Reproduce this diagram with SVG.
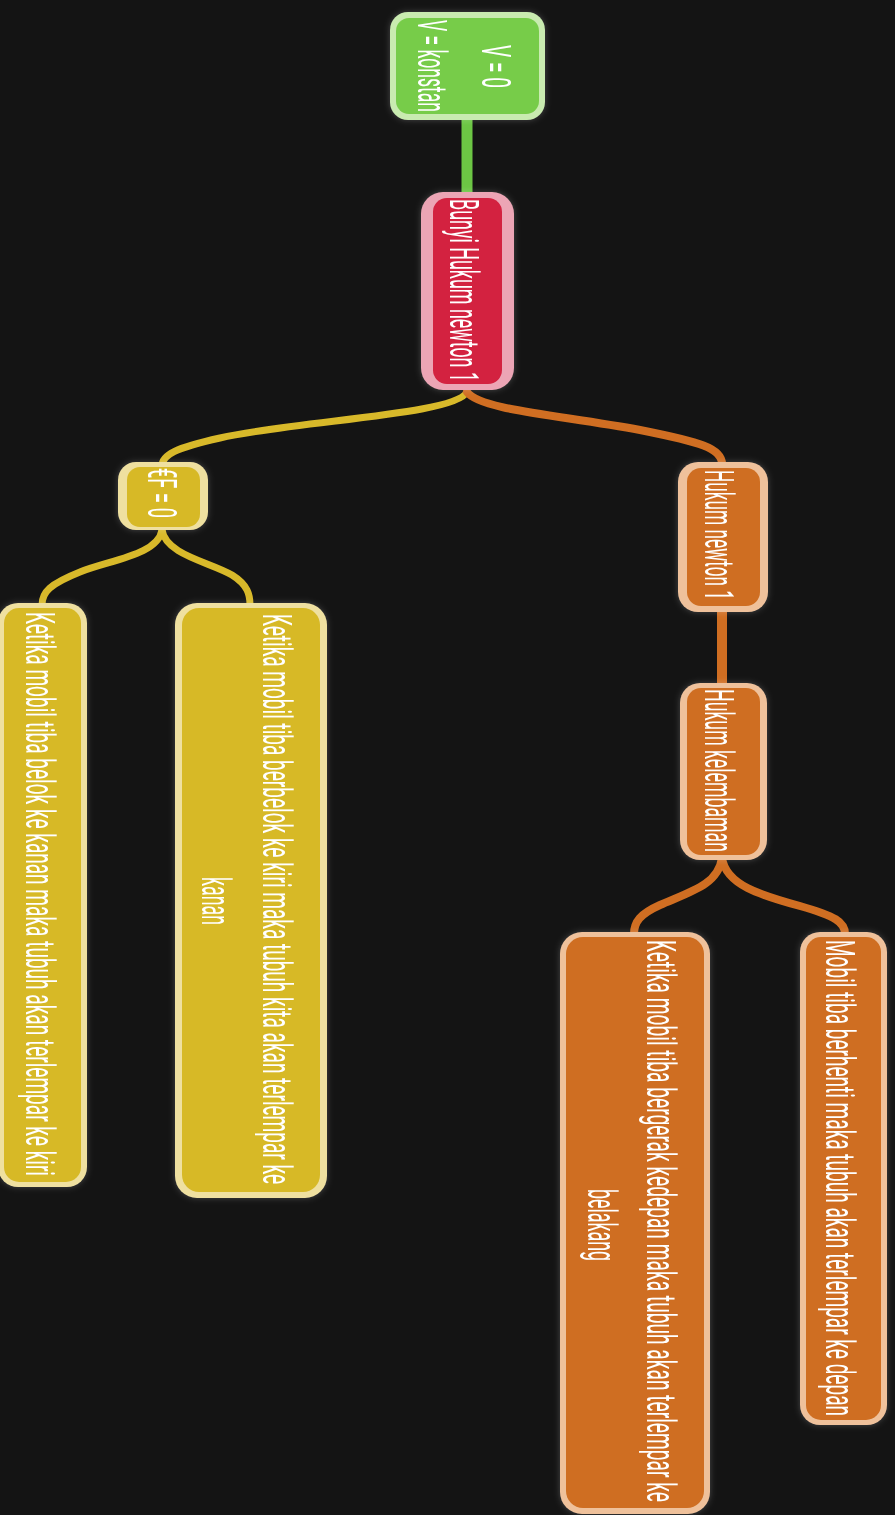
<svg xmlns="http://www.w3.org/2000/svg" width="895" height="1515" viewBox="0 0 895 1515">
<defs>
<style>
.t{font-family:Roboto,"Liberation Sans",sans-serif;font-size:16px;fill:#ffffff;text-anchor:middle}
.c{fill:none;stroke-linecap:round}
.cg{stroke:#6cc644;stroke-width:11}
.cy{stroke:#d8b92a;stroke-width:7}
.co{stroke:#d06e22;stroke-width:8}
.bg{fill:#c9ebb0}.fg{fill:#77cc4a}
.br{fill:#eca5b5}.fr{fill:#d3203f}
.by{fill:#efe0a0}.fy{fill:#d7b928}
.bo{fill:#efc19b}.fo{fill:#cf6e21}
</style>
<filter id="glow" x="-20%" y="-20%" width="140%" height="140%">
<feDropShadow dx="0" dy="0" stdDeviation="3" flood-color="#ffffff" flood-opacity="0.22"/>
</filter>
</defs>
<rect width="895" height="1515" fill="#141414"/>
<g id="connectors">
<path class="c cg" d="M467,118 L467,195"/>
<path class="c cy" d="M467,392 C455,415 300,420 220,438 C175,448 162,455 162,466"/>
<path class="c co" d="M467,392 C480,410 560,415 640,430 C700,442 722,448 722,464"/>
<path class="c cy" d="M162,530 C158,555 110,560 80,572 C50,584 42,592 42,605"/>
<path class="c cy" d="M162,530 C166,555 210,562 232,575 C248,585 250,595 250,605"/>
<path class="c co" style="stroke-width:10" d="M722,610 L722,685"/>
<path class="c co" d="M722,858 C718,885 690,892 660,905 C640,914 634,922 634,934"/>
<path class="c co" d="M722,858 C726,885 760,895 800,906 C835,916 845,922 845,934"/>
</g>
<g id="node-v" filter="url(#glow)">
<rect class="bg" x="390" y="12" width="155" height="108" rx="18"/>
<rect class="fg" x="396" y="18" width="143" height="96" rx="13"/>
<text class="t" transform="translate(482,66.5) rotate(90) scale(1,2.5625)" textLength="43" lengthAdjust="spacingAndGlyphs">V = 0</text>
<text class="t" transform="translate(418,66) rotate(90) scale(1,2.5625)" textLength="92" lengthAdjust="spacingAndGlyphs">V = konstan</text>
</g>
<g id="node-bunyi" filter="url(#glow)">
<rect class="br" x="421" y="192" width="93" height="198" rx="22"/>
<rect class="fr" x="433" y="198" width="69" height="186" rx="14"/>
<text class="t" transform="translate(450,290.5) rotate(90) scale(1,2.5625)" textLength="183" lengthAdjust="spacingAndGlyphs">Bunyi Hukum newton 1</text>
</g>
<g id="node-sigma" filter="url(#glow)">
<rect class="by" x="118" y="462" width="90" height="68" rx="18"/>
<rect class="fy" x="127" y="467" width="73" height="60" rx="13"/>
<text class="t" transform="translate(148,493) rotate(90) scale(1,2.5625)" textLength="50" lengthAdjust="spacingAndGlyphs">€F = 0</text>
</g>
<g id="node-hukum1" filter="url(#glow)">
<rect class="bo" x="678" y="462" width="90" height="150" rx="20"/>
<rect class="fo" x="687" y="468" width="73" height="138" rx="14"/>
<text class="t" transform="translate(705,535) rotate(90) scale(1,2.5625)" textLength="130" lengthAdjust="spacingAndGlyphs">Hukum newton 1</text>
</g>
<g id="node-kelembaman" filter="url(#glow)">
<rect class="bo" x="680" y="683" width="87" height="177" rx="20"/>
<rect class="fo" x="687" y="688" width="73" height="167" rx="14"/>
<text class="t" transform="translate(705,770.5) rotate(90) scale(1,2.5625)" textLength="163" lengthAdjust="spacingAndGlyphs">Hukum kelembaman</text>
</g>
<g id="node-kiri" filter="url(#glow)">
<rect class="by" x="-2" y="603" width="89" height="584" rx="20"/>
<rect class="fy" x="4" y="608" width="77" height="574" rx="15"/>
<text class="t" transform="translate(26,894) rotate(90) scale(1,2.5625)" textLength="564" lengthAdjust="spacingAndGlyphs">Ketika mobil tiba belok ke kanan maka tubuh akan terlempar ke kiri</text>
</g>
<g id="node-kanan" filter="url(#glow)">
<rect class="by" x="175" y="603" width="152" height="595" rx="22"/>
<rect class="fy" x="182" y="608" width="138" height="584" rx="17"/>
<text class="t" transform="translate(263,899) rotate(90) scale(1,2.5625)" textLength="570" lengthAdjust="spacingAndGlyphs">Ketika mobil tiba berbelok ke kiri maka tubuh kita akan terlempar ke</text>
<text class="t" transform="translate(202,901) rotate(90) scale(1,2.5625)" textLength="48" lengthAdjust="spacingAndGlyphs">kanan</text>
</g>
<g id="node-belakang" filter="url(#glow)">
<rect class="bo" x="560" y="932" width="150" height="582" rx="22"/>
<rect class="fo" x="566" y="937" width="138" height="571" rx="17"/>
<text class="t" transform="translate(647,1221) rotate(90) scale(1,2.5625)" textLength="562" lengthAdjust="spacingAndGlyphs">Ketika mobil tiba bergerak kedepan maka tubuh akan terlempar ke</text>
<text class="t" transform="translate(588,1225) rotate(90) scale(1,2.5625)" textLength="72" lengthAdjust="spacingAndGlyphs">belakang</text>
</g>
<g id="node-depan" filter="url(#glow)">
<rect class="bo" x="800" y="932" width="87" height="493" rx="20"/>
<rect class="fo" x="806" y="937" width="75" height="483" rx="15"/>
<text class="t" transform="translate(826,1178) rotate(90) scale(1,2.5625)" textLength="476" lengthAdjust="spacingAndGlyphs">Mobil tiba berhenti maka tubuh akan terlempar ke depan</text>
</g>
</svg>
